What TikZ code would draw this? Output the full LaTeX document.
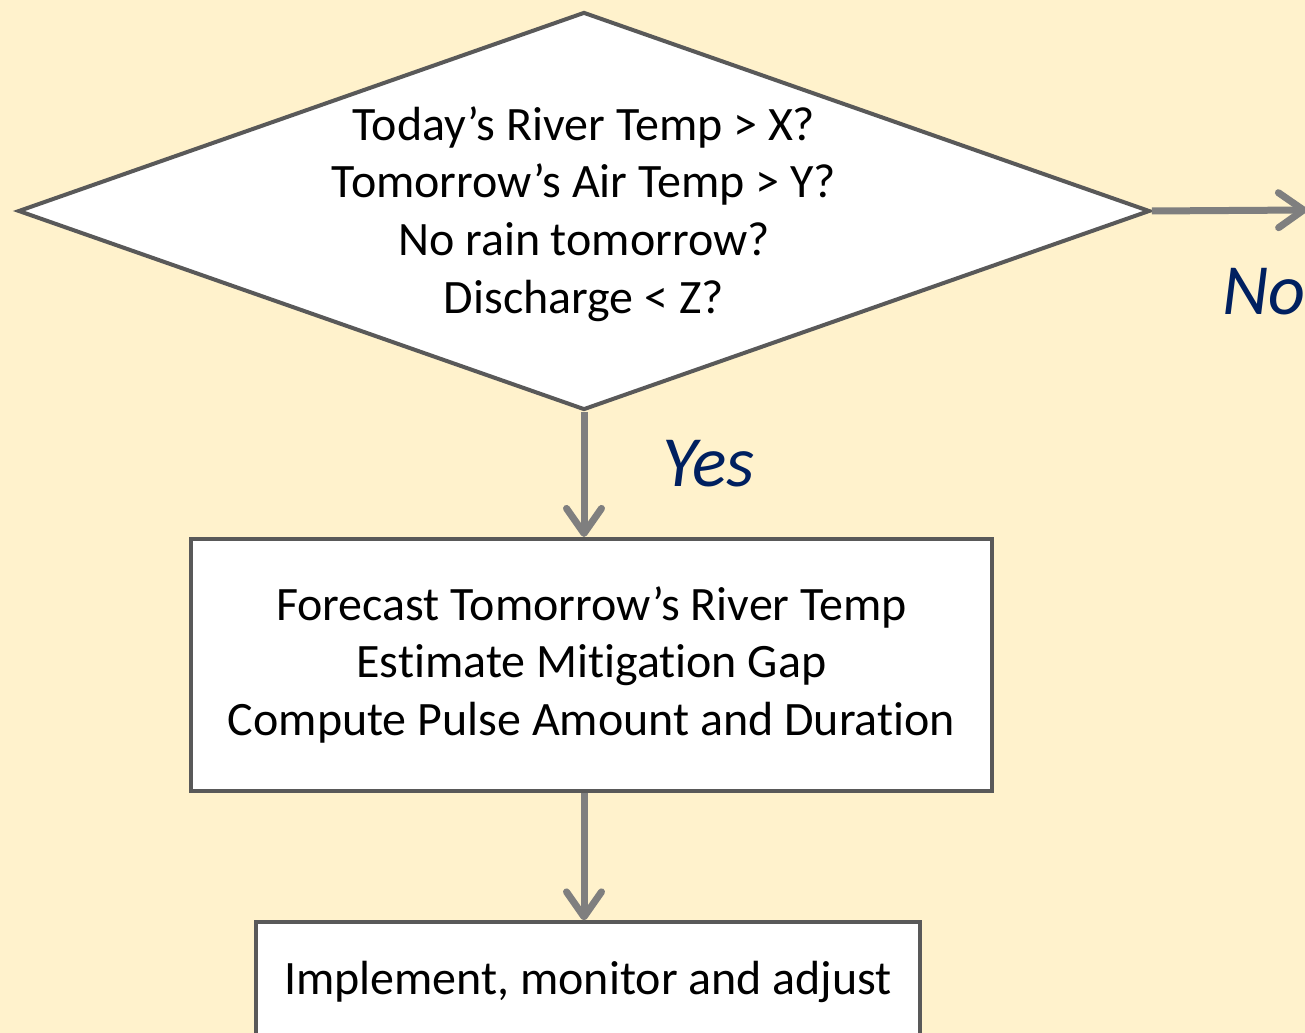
\documentclass[tikz,border=0pt]{standalone}
\usepackage{fontspec}
\setmainfont{Carlito}[Ligatures={NoCommon,NoContextual}, Contextuals=NoAlternate]
\usepackage{tikz}
\usetikzlibrary{arrows.meta, positioning, shapes.geometric}
\definecolor{pagecream}{RGB}{255,242,204}
\definecolor{edgegray}{RGB}{89,89,89}
\definecolor{arrowgray}{RGB}{127,127,127}
\definecolor{answerblue}{RGB}{0,32,96}

\begin{document}
\begin{tikzpicture}[
  x=0.02cm, y=-0.02cm,
  node distance=2.5cm,
  txt/.style={font=\fontsize{27.3}{32.8}\selectfont, align=center, text=black},
  decision/.style={diamond, draw=edgegray, fill=white, line width=0.08cm, minimum width=22.64cm, minimum height=7.96cm, inner sep=0pt},
  task/.style={rectangle, draw=edgegray, fill=white, line width=0.08cm, txt},
  answer/.style={font=\fontsize{41}{48}\selectfont\itshape, text=answerblue, inner sep=0pt},
  arr/.style={-{Straight Barb[round, length=0.5cm, width=0.7cm]}, line width=0.14cm, arrowgray}
]
  \useasboundingbox (0,0) rectangle (1305,1033);
  \clip (0,0) rectangle (1305,1033);
  \fill[pagecream] (0,0) rectangle (1305,1033);

  % decision diamond, text set on top of it
  \node[decision] (check) at (584,211) {};
  \node[txt] (checktext) at (584,214) {Today’s River Temp > X?\\Tomorrow’s Air Temp > Y?\\No rain tomorrow?\\Discharge < Z?};

  \node[task, minimum width=16.02cm, minimum height=5.04cm, below=of check, xshift=0.15cm] (forecast) {Forecast Tomorrow’s River Temp\\Estimate Mitigation Gap\\Compute Pulse Amount and Duration};
  \node[task, minimum width=13.28cm, minimum height=2.4cm, below=2.55cm of forecast, xshift=-0.07cm] (adjust) {Implement, monitor and adjust};

  \coordinate (noend) at (1307,210);
  \draw[arr] (check.east) -- (noend);
  \draw[arr] (check.south) -- (check.south |- forecast.north);
  \draw[arr] (forecast.south -| check.south) -- (adjust.north -| check.south);

  \node[answer, anchor=base west] (yes) at (662,487) {Yes};
  \node[answer, anchor=base west] (no) at (1222,315) {No};
\end{tikzpicture}
\end{document}
